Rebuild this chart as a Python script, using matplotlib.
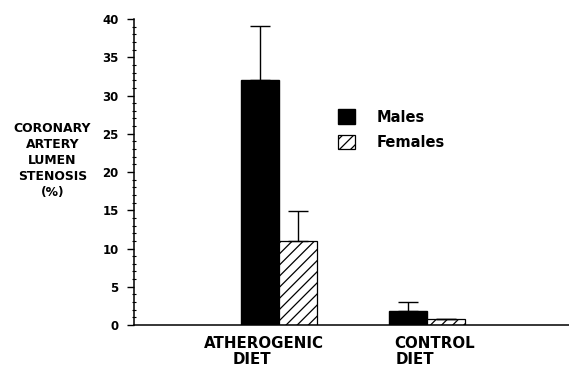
import numpy as np
from matplotlib import pyplot as plt
from matplotlib.ticker import MultipleLocator
from matplotlib.transforms import blended_transform_factory

plt.rcParams['font.family'] = ['DejaVu Sans']
plt.rcParams['font.weight'] = 'bold'
plt.rcParams['hatch.linewidth'] = 0.9

diets = ['ATHEROGENIC\nDIET', 'CONTROL\nDIET']
males = [32.0, 1.8]
males_err = [7.1, 1.2]
females = [11.0, 0.8]
females_err = [3.9, 0.0]

x = np.arange(len(diets))
w = 0.257

fig = plt.figure(figsize=(5.69, 3.69), dpi=100)
ax = fig.add_axes([0.2355, 0.1192, 0.7645, 0.8293])

ax.bar(x - w / 2, males, w, color='black', edgecolor='black', label='Males',
       yerr=[np.zeros(len(males)), males_err], capsize=7,
       error_kw=dict(elinewidth=1, capthick=1, ecolor='black'))
ax.bar(x + w / 2, females, w, color='white', edgecolor='black', hatch='///',
       linewidth=0.9, label='Females',
       yerr=[np.zeros(len(females)), females_err], capsize=7,
       error_kw=dict(elinewidth=1, capthick=1, ecolor='black'))

ax.set_xlim(-0.98, 1.96)
ax.set_ylim(0, 40)
ax.yaxis.set_major_locator(MultipleLocator(5))
ax.yaxis.set_minor_locator(MultipleLocator(1))
ax.tick_params(axis='y', which='major', direction='out', length=5, width=1,
               labelsize=8.5, pad=6)
ax.tick_params(axis='y', which='minor', direction='inout', length=3, width=0.8)
ax.set_xticks([])
for s in ['top', 'right']:
    ax.spines[s].set_visible(False)
for s in ['left', 'bottom']:
    ax.spines[s].set_linewidth(1.1)

# category labels, each line placed as in the original
trans = blended_transform_factory(ax.transData, fig.transFigure)
line_pos = [[(-0.10, 'ATHEROGENIC'), (-0.18, 'DIET')],
            [(1.054, 'CONTROL'), (0.92, 'DIET')]]
for lines in line_pos:
    for (xp, txt), yb in zip(lines, [0.057, 0.014]):
        ax.text(xp, yb, txt, transform=trans, ha='center', va='baseline',
                fontsize=10.8, fontweight='bold')

fig.text(0.092, 0.566, 'CORONARY\nARTERY\nLUMEN\nSTENOSIS\n(%)', ha='center',
         va='center', fontsize=8.9, fontweight='bold', linespacing=1.3)

leg = ax.legend(loc='upper left', bbox_to_anchor=(338 / 569, 1 - 109.5 / 369),
                bbox_transform=fig.transFigure, frameon=False, borderpad=0,
                borderaxespad=0, fontsize=10.5, handlelength=1.15,
                handleheight=1.15, handletextpad=1.5, labelspacing=0.7)

fig.savefig('out.png', dpi=100)
